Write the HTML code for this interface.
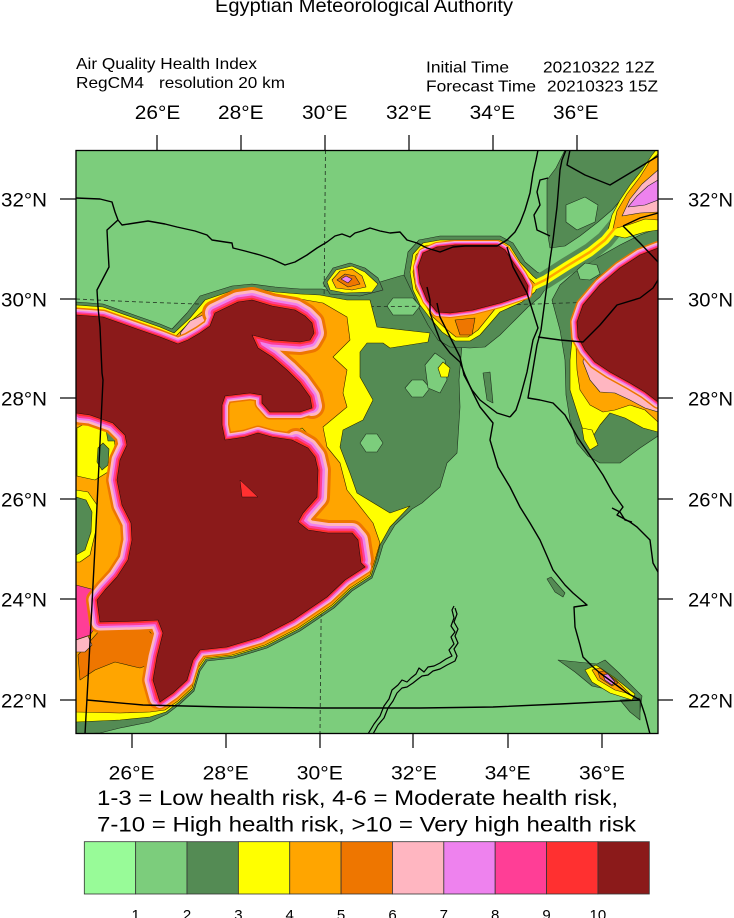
<!DOCTYPE html>
<html><head><meta charset="utf-8"><style>
html,body{margin:0;padding:0;background:#fff;}
svg{display:block;}
text{font-family:"Liberation Sans",Arial,sans-serif;fill:#000;}
</style></head><body>
<svg width="734" height="918" viewBox="0 0 734 918" xmlns="http://www.w3.org/2000/svg" xmlns:xlink="http://www.w3.org/1999/xlink">
<rect width="734" height="918" fill="#fff"/>
<defs>
<clipPath id="c"><rect x="76" y="150.5" width="582" height="583"/></clipPath>
<path id="dr1" d="M76,315 L103,317 L137,329 L160,337 L178,344 L188,340 L200,333 L210,326 L215,313 L238,302 L252,300 L272,306 L295,310 L305,316 L312,323 L314,333 L310,340 L300,342 L272,340 L252,335 L258,348 L272,357 L287,370 L300,383 L310,397 L312,408 L300,412 L270,412 L262,403 L262,395 L250,393 L225,396 L222,405 L222,425 L225,440 L245,437 L258,433 L272,437 L292,440 L308,448 L315,457 L318,470 L317,497 L303,513 L298,522 L308,530 L328,533 L352,533 L358,540 L361,563 L365,567 L345,580 L327,597 L293,620 L260,637 L227,647 L200,650 L193,660 L187,680 L173,693 L160,702 L153,680 L157,657 L163,633 L158,620 L140,621 L100,622 L97,600 L105,590 L117,577 L128,560 L132,540 L131,523 L122,505 L117,480 L120,460 L127,445 L125,435 L113,423 L90,415 L76,413 Z"/>
<path id="segE" d="M215,313 L238,302 L252,300 L272,306 L295,310 L305,316 L312,323 L314,333 L310,340 L300,342 L272,340 L252,335 L258,348 L272,357 L287,370 L300,383 L310,397 L312,406 M296,441 L308,448 L315,457 L318,470 L317,497 L303,513 L298,522 L308,530 L328,533 L352,533 L358,540 L361,560"/>
<path id="segW" d="M80,414 L90,415 L113,423 L125,435 L127,445 L120,460 L117,480 L122,505 L131,523 L132,540 L128,560 L117,577 L105,590 L97,600 L100,622 L140,621 L158,620 L163,633 L157,657 L153,680 L158,698"/>
<path id="dr2" d="M423,253 L437,247 L455,245 L497,245 L505,250 L513,262 L522,275 L528,286 L527,294 L515,298 L500,303 L473,310 L450,313 L437,312 L427,300 L420,283 L418,267 Z"/>
<path id="dr3" d="M577,322 L583,305 L600,285 L620,268 L640,255 L658,248 L658,402 L645,392 L630,383 L610,372 L595,362 L585,350 L578,337 Z"/>
<path id="diag" d="M528,288 L545,280 L567,266 L590,252 L605,240 L615,228 L625,215"/>
</defs>

<!-- header -->
<text x="215" y="12" font-size="19.5" textLength="298" lengthAdjust="spacingAndGlyphs">Egyptian Meteorological Authority</text>
<text x="76" y="69" font-size="16" textLength="181" lengthAdjust="spacingAndGlyphs">Air Quality Health Index</text>
<text x="76" y="88" font-size="16" textLength="68" lengthAdjust="spacingAndGlyphs">RegCM4</text>
<text x="159" y="88" font-size="16" textLength="126" lengthAdjust="spacingAndGlyphs">resolution 20 km</text>
<text x="426" y="72.5" font-size="16" textLength="83" lengthAdjust="spacingAndGlyphs">Initial Time</text>
<text x="543" y="72.5" font-size="16" textLength="111.5" lengthAdjust="spacingAndGlyphs">20210322 12Z</text>
<text x="426" y="91.5" font-size="16" textLength="110" lengthAdjust="spacingAndGlyphs">Forecast Time</text>
<text x="547" y="91.5" font-size="16" textLength="111" lengthAdjust="spacingAndGlyphs">20210323 15Z</text>

<!-- map -->
<g clip-path="url(#c)" stroke-linejoin="round">
<rect x="76" y="150" width="582" height="584" fill="#7ccd7c"/>

<!-- dark green -->
<g fill="#548b54" stroke="#1e2e1e" stroke-width="0.6">
<polygon points="76,302 103,304 137,316 160,324 172,329 187,313 200,296 232,286 252,284 275,287 300,289 322,289 335,292 350,292 360,285 380,282 400,276 423,271 423,285 432,292 445,305 455,315 462,322 462,345 459,380 460,407 457,453 447,463 440,487 422,503 412,509 395,525 383,545 378,562 372,578 352,591 334,608 300,631 267,648 234,658 207,661 200,671 194,691 180,704 167,714 150,722 120,728 100,733 76,734"/>
<polygon points="404,275 408,252 419,240 440,236 500,236 513,243 525,262 537,272 545,276 548,285 540,297 528,307 515,320 500,335 485,347 470,348 450,347 438,340 428,325 420,310 412,292"/>
<polygon points="565,150 658,150 658,165 640,178 625,195 612,210 598,222 580,236 565,246 550,248 547,230 547,180 556,168"/>
<polygon points="552,300 560,285 575,272 597,258 620,245 640,235 658,228 658,436 640,448 620,463 600,463 588,456 577,443 570,420 566,395 565,360 560,330"/>
<polygon points="558,660 597,664 605,660 618,672 642,696 640,712 632,700 610,690 592,686 575,672"/>
<polygon points="547,579 551,577 565,593 563,597 555,592"/>
<polygon points="620,700 640,698 640,720 630,712"/>
<polygon points="483,373 490,372 493,403 487,400"/>
</g>
<use href="#diag" xlink:href="#diag" fill="none" stroke="#548b54" stroke-width="18" stroke-linecap="round"/>

<!-- light green patches -->
<g fill="#7ccd7c" stroke="#1e2e1e" stroke-width="0.6">
<polygon points="387,306 393,298 413,298 420,306 413,315 393,315"/>
<polygon points="360,443 366,434 377,434 383,443 377,452 366,452"/>
<polygon points="405,388 412,380 423,380 430,388 423,397 412,397"/>
<polygon points="425,365 435,353 445,360 447,380 440,393 428,388"/>
<polygon points="566,205 585,197 598,205 595,222 577,230 566,222"/>
<polygon points="577,270 585,263 597,265 600,274 590,280 580,279"/>
</g>

<!-- grid lines (under the higher fills) -->
<g fill="none" stroke="#2a3f2a" stroke-width="0.9" stroke-dasharray="4,3">
<path d="M325.5,150 L320,734"/>
<path d="M76,299 Q367,314 658,299"/>
</g>

<!-- yellow -->
<g fill="#ffff00" stroke="#2a2a00" stroke-width="0.6">
<polygon points="76,305 103,307 137,319 160,327 174,333 190,318 205,300 234,290 252,288 275,292 300,294 320,295 347,300 370,300 377,327 430,333 428,342 390,348 383,343 367,343 360,352 360,377 373,400 363,420 343,430 340,447 350,473 357,493 390,513 410,506 390,527 380,545 376,560 371,576 351,589 333,606 299,629 266,646 233,656 206,659 199,669 193,689 179,702 166,712 150,717 120,720 76,722"/>
<polygon points="410,272 413,254 423,243 440,240 500,240 510,246 520,262 533,276 540,282 535,292 522,302 500,312 480,335 470,341 455,341 442,332 430,318 420,305 413,290"/>
<polygon points="607,234 612,215 620,200 630,185 642,170 652,155 656,150 658,150 658,230 645,232 625,238"/>
<polygon points="572,318 578,302 597,278 625,257 658,242 658,432 643,428 625,418 610,413 600,425 592,438 583,430 577,412 570,390 570,360 572,340"/>
<polygon points="582,428 592,430 598,445 590,450 584,440"/>
<polygon points="585,670 596,665 615,678 635,694 632,700 610,693 592,682"/>
<polygon points="438,368 443,362 450,368 448,377 441,377"/>
</g>
<use href="#diag" xlink:href="#diag" fill="none" stroke="#ffff00" stroke-width="9" stroke-linecap="round"/>

<!-- orange -->
<g fill="#ffa500" stroke="#3a2600" stroke-width="0.6">
<polygon points="76,308 103,310 137,322 160,330 176,336 190,322 210,305 236,295 252,293 275,297 300,299 323,303 347,317 350,340 333,357 347,370 343,393 347,407 323,427 327,447 340,463 347,490 373,523 380,543 375,560 370,575 350,588 332,605 298,628 265,645 232,655 205,658 198,668 192,688 178,701 165,710 150,712 120,713 76,712"/>
<polygon points="413,272 416,255 425,246 440,243 500,243 507,248 517,263 528,277 535,284 530,292 518,300 495,309 478,330 468,337 456,337 445,328 433,317 424,303 416,289"/>
<polygon points="613,229 617,211 627,194 640,177 650,161 658,154 658,220 645,219 628,225"/>
<polygon points="575,322 581,305 599,282 627,260 658,246 658,422 645,410 630,405 615,410 603,412 590,405 580,390 577,370 576,345"/>
<polygon points="592,670 600,668 616,680 630,694 615,690 598,680"/>
</g>
<use href="#diag" xlink:href="#diag" fill="none" stroke="#ffa500" stroke-width="2.5"/>

<!-- left edge patches -->
<g stroke="#2a2a00" stroke-width="0.6">
<polygon fill="#ffff00" points="77,428 95,418 112,426 115,445 108,472 95,480 77,476"/>
<polygon fill="#548b54" points="98,448 103,443 109,449 108,465 102,470 97,462"/>
<polygon fill="#548b54" points="106,430 112,427 118,433 115,441 108,441"/>
<polygon fill="#ffff00" points="76,490 88,492 97,505 96,530 90,555 80,562 76,562"/>
<polygon fill="#548b54" points="76,497 86,500 92,512 91,532 85,550 76,555"/>
<polygon fill="#ee7600" points="78,655 100,630 145,627 158,640 156,662 140,668 115,662 95,670 80,680"/>
<polygon fill="#ff3e96" points="76,585 95,590 97,625 90,635 76,640"/>
<polygon fill="#ffb6c1" points="76,640 88,636 92,645 85,652 76,652"/>
<polygon fill="#ffff00" points="295,432 302,428 308,434 302,438"/>
<polygon fill="#ee7600" points="455,320 475,318 472,335 460,335"/>
</g>

<!-- small blob near Alexandria -->
<g stroke="#222" stroke-width="0.6">
<polygon fill="#548b54" points="323,283 333,268 350,263 365,268 378,278 383,290 360,296 330,294"/>
<polygon fill="#ffff00" points="327,282 336,270 352,266 365,272 378,284 372,292 345,293 330,290"/>
<polygon fill="#ffa500" points="332,280 340,271 352,269 362,276 366,287 352,290 336,288"/>
<polygon fill="#ee7600" points="337,280 345,274 355,276 360,284 348,287"/>
<polygon fill="#ee82ee" points="341,279 346,276 352,279 348,283"/>
</g>

<!-- pinks -->
<g stroke="#222" stroke-width="0.6">
<polygon fill="#ffb6c1" points="178,344 181,332 190,321 205,314 214,314 210,326 200,333 188,340"/>
<polygon fill="#ffb6c1" points="622,216 630,199 642,184 658,170 658,212 640,213"/>
<polygon fill="#ee82ee" points="628,207 637,196 648,186 658,180 658,200 645,205"/>
<polygon fill="#ffb6c1" points="585,345 600,362 625,378 658,398 658,412 645,408 630,400 615,393 600,392 590,380 583,362"/>
<polygon fill="#ee7600" points="598,672 604,671 618,683 612,686 600,678"/>
<polygon fill="#ee82ee" points="603,675 608,674 615,682 612,685 605,680"/>
</g>

<!-- concentric bands around dark red blobs -->
<g fill="none" stroke-linecap="round">
<use href="#segE" xlink:href="#segE" stroke="#ee7600" stroke-width="26"/>
<use href="#segW" xlink:href="#segW" stroke="#ee7600" stroke-width="22"/>
<use href="#dr1" xlink:href="#dr1" stroke="#ee7600" stroke-width="15"/>
<use href="#segE" xlink:href="#segE" stroke="#ffb6c1" stroke-width="20"/>
<use href="#segW" xlink:href="#segW" stroke="#ffb6c1" stroke-width="17"/>
<use href="#dr1" xlink:href="#dr1" stroke="#ffb6c1" stroke-width="12"/>
<use href="#segE" xlink:href="#segE" stroke="#ee82ee" stroke-width="14"/>
<use href="#segW" xlink:href="#segW" stroke="#ee82ee" stroke-width="12"/>
<use href="#dr1" xlink:href="#dr1" stroke="#ee82ee" stroke-width="9"/>
<use href="#segE" xlink:href="#segE" stroke="#ff3e96" stroke-width="9"/>
<use href="#segW" xlink:href="#segW" stroke="#ff3e96" stroke-width="8"/>
<use href="#dr1" xlink:href="#dr1" stroke="#ff3e96" stroke-width="6"/>
<use href="#segE" xlink:href="#segE" stroke="#ff3030" stroke-width="4.5"/>
<use href="#segW" xlink:href="#segW" stroke="#ff3030" stroke-width="4"/>
<use href="#dr1" xlink:href="#dr1" stroke="#ff3030" stroke-width="3"/>
<use href="#dr2" xlink:href="#dr2" stroke="#ee7600" stroke-width="10"/>
<use href="#dr2" xlink:href="#dr2" stroke="#ffb6c1" stroke-width="8"/>
<use href="#dr2" xlink:href="#dr2" stroke="#ee82ee" stroke-width="6"/>
<use href="#dr2" xlink:href="#dr2" stroke="#ff3e96" stroke-width="4"/>
<use href="#dr2" xlink:href="#dr2" stroke="#ff3030" stroke-width="2"/>
<use href="#dr3" xlink:href="#dr3" stroke="#ee7600" stroke-width="14"/>
<use href="#dr3" xlink:href="#dr3" stroke="#ffb6c1" stroke-width="11"/>
<use href="#dr3" xlink:href="#dr3" stroke="#ee82ee" stroke-width="8"/>
<use href="#dr3" xlink:href="#dr3" stroke="#ff3e96" stroke-width="5"/>
<use href="#dr3" xlink:href="#dr3" stroke="#ff3030" stroke-width="2.5"/>
</g>
<g fill="#8b1a1a" stroke="#2a0a0a" stroke-width="0.6">
<use href="#dr1" xlink:href="#dr1"/>
<use href="#dr2" xlink:href="#dr2"/>
<use href="#dr3" xlink:href="#dr3"/>
</g>
<polygon fill="#ff3030" stroke="#2a0a0a" stroke-width="0.5" points="240,480 242,497 258,497"/>

<!-- coastlines and borders -->
<g fill="none" stroke="#000" stroke-width="1.4" stroke-linejoin="round">
<path d="M76,198 L100,199 L112,202 L115,212 L118,220 L122,225 L135,223 L148,221 L165,224 L177,227 L195,231 L207,235 L212,240 L225,242 L232,243 L233,248 L245,251 L260,255 L272,259 L285,265 L295,262 L307,255 L317,248 L327,242 L335,236 L342,234 L350,237 L355,233 L362,231 L370,228 L380,231 L390,233 L400,232 L407,240 L417,243 L427,248 L440,252 L453,247 L465,246 L480,246 L497,246 L507,240 L515,232 L520,223 L525,210 L530,193 L533,173 L536,160 L538,150"/>
<path d="M118,220 L107,230 L108,250 L109,267 L97,290 L98,307 L100,327 L102,373 L103,380 L95,547 L88,680 L85,734"/>
<path d="M87,700 L143,705 L227,707 L320,708 L420,708 L493,707 L560,704 L640,700"/>
<path d="M427,287 L430,300 L430,313 L435,327 L440,340 L450,353 L460,362 L465,375 L473,393 L480,407 L493,423 L490,440 L498,467 L510,487 L520,507 L530,523 L540,540 L547,556 L553,570 L565,585 L573,593 L587,605 L574,607 L575,627 L580,645 L583,657 L593,667 L600,673 L615,684 L627,693 L640,700 L645,715 L650,734"/>
<path d="M437,303 L440,317 L450,337 L460,357 L464,375 L472,390 L480,400 L497,413 L510,417"/>
<path d="M510,417 L516,410 L520,398 L527,372 L533,340 L538,328 L527,293 L513,267 L507,247"/>
<path d="M541,330 L537,345 L532,375 L528,398 L540,400 L553,403 L565,415 L578,438 L593,460 L603,475 L613,493 L623,507 L617,515 L630,522 L637,527 L650,540 L653,563 L658,572"/>
<path d="M541,330 L545,300 L547,285 L550,260 L553,240 L557,207 L560,170 L562,160 L566,150"/>
<path d="M548,178 L540,180 L537,192 L540,205 L534,215 L537,230 L550,236"/>
<path d="M538,337 L560,340 L583,342 L600,325 L617,305 L640,298 L653,288 L658,280"/>
<path d="M570,150 L567,165 L585,175 L610,185 L635,170 L658,156"/>
<path d="M623,226 L640,218 L658,213"/>
<path d="M623,226 L640,243 L658,262"/>
<path d="M612,508 L620,512 L625,520 L632,522"/>
<path stroke-width="1.2" d="M368,734 L374,724 L380,716 L384,706 L389,699 L392,690 L398,685 L402,680 L407,682 L411,678 L416,674 L419,668 L424,672 L428,667 L434,666 L440,663 L446,659 L452,656 L449,650 L454,644 L451,637 L455,632 L451,626 L454,618 L452,610 L454,606"/>
<path stroke-width="1.2" d="M373,734 L378,725 L384,718 L388,708 L393,701 L397,693 L402,688 L407,687 L413,683 L418,679 L422,676 L428,675 L433,671 L440,669 L447,665 L455,661 L457,656 L454,649 L458,643 L455,636 L458,629 L454,622 L457,614 L455,608"/>
</g>
</g>

<!-- frame -->
<rect x="76" y="150.5" width="582" height="583" fill="none" stroke="#000" stroke-width="1.3"/>

<!-- ticks -->
<g stroke="#000" stroke-width="1.2">
<line x1="157" y1="135" x2="157" y2="150"/><line x1="241" y1="135" x2="241" y2="150"/><line x1="325" y1="135" x2="325" y2="150"/><line x1="409" y1="135" x2="409" y2="150"/><line x1="493" y1="135" x2="493" y2="150"/><line x1="577" y1="135" x2="577" y2="150"/>
<line x1="132" y1="733" x2="132" y2="748"/><line x1="226" y1="733" x2="226" y2="748"/><line x1="320" y1="733" x2="320" y2="748"/><line x1="413" y1="733" x2="413" y2="748"/><line x1="508" y1="733" x2="508" y2="748"/><line x1="602" y1="733" x2="602" y2="748"/>
<line x1="60" y1="199" x2="76" y2="199"/><line x1="60" y1="299" x2="76" y2="299"/><line x1="60" y1="398" x2="76" y2="398"/><line x1="60" y1="499" x2="76" y2="499"/><line x1="60" y1="599" x2="76" y2="599"/><line x1="60" y1="700" x2="76" y2="700"/>
<line x1="658" y1="199" x2="673" y2="199"/><line x1="658" y1="299" x2="673" y2="299"/><line x1="658" y1="398" x2="673" y2="398"/><line x1="658" y1="499" x2="673" y2="499"/><line x1="658" y1="599" x2="673" y2="599"/><line x1="658" y1="700" x2="673" y2="700"/>
</g>

<!-- axis labels -->
<g font-size="19">
<text x="134.8" y="119" textLength="45.5" lengthAdjust="spacingAndGlyphs">26°E</text>
<text x="218" y="119" textLength="45.5" lengthAdjust="spacingAndGlyphs">28°E</text>
<text x="302" y="119" textLength="45.5" lengthAdjust="spacingAndGlyphs">30°E</text>
<text x="386" y="119" textLength="45.5" lengthAdjust="spacingAndGlyphs">32°E</text>
<text x="469.6" y="119" textLength="45.5" lengthAdjust="spacingAndGlyphs">34°E</text>
<text x="553" y="119" textLength="45.5" lengthAdjust="spacingAndGlyphs">36°E</text>
<text x="108.6" y="779.3" textLength="46" lengthAdjust="spacingAndGlyphs">26°E</text>
<text x="202.7" y="779.3" textLength="46" lengthAdjust="spacingAndGlyphs">28°E</text>
<text x="296.8" y="779.3" textLength="46" lengthAdjust="spacingAndGlyphs">30°E</text>
<text x="391" y="779.3" textLength="46" lengthAdjust="spacingAndGlyphs">32°E</text>
<text x="484.6" y="779.3" textLength="46" lengthAdjust="spacingAndGlyphs">34°E</text>
<text x="579" y="779.3" textLength="46" lengthAdjust="spacingAndGlyphs">36°E</text>
<text x="1" y="206.7" textLength="46" lengthAdjust="spacingAndGlyphs">32°N</text>
<text x="1" y="306.7" textLength="46" lengthAdjust="spacingAndGlyphs">30°N</text>
<text x="1" y="405.7" textLength="46" lengthAdjust="spacingAndGlyphs">28°N</text>
<text x="1" y="506.7" textLength="46" lengthAdjust="spacingAndGlyphs">26°N</text>
<text x="1" y="606.7" textLength="46" lengthAdjust="spacingAndGlyphs">24°N</text>
<text x="1" y="707.7" textLength="46" lengthAdjust="spacingAndGlyphs">22°N</text>
<text x="688" y="206.5" textLength="45" lengthAdjust="spacingAndGlyphs">32°N</text>
<text x="688" y="306.5" textLength="45" lengthAdjust="spacingAndGlyphs">30°N</text>
<text x="688" y="405.5" textLength="45" lengthAdjust="spacingAndGlyphs">28°N</text>
<text x="688" y="506.5" textLength="45" lengthAdjust="spacingAndGlyphs">26°N</text>
<text x="688" y="606.5" textLength="45" lengthAdjust="spacingAndGlyphs">24°N</text>
<text x="688" y="707.5" textLength="45" lengthAdjust="spacingAndGlyphs">22°N</text>
</g>

<!-- legend text -->
<text x="97" y="805" font-size="21" textLength="521" lengthAdjust="spacingAndGlyphs">1-3 = Low health risk, 4-6 = Moderate health risk,</text>
<text x="97" y="831.7" font-size="21" textLength="539" lengthAdjust="spacingAndGlyphs">7-10 = High health risk, &gt;10 = Very high health risk</text>

<!-- colorbar -->
<g stroke="#333" stroke-width="0.8">
<rect x="84.3" y="841.7" width="51.36" height="52.3" fill="#98fb98"/>
<rect x="135.66" y="841.7" width="51.36" height="52.3" fill="#7ccd7c"/>
<rect x="187.02" y="841.7" width="51.36" height="52.3" fill="#548b54"/>
<rect x="238.38" y="841.7" width="51.36" height="52.3" fill="#ffff00"/>
<rect x="289.74" y="841.7" width="51.36" height="52.3" fill="#ffa500"/>
<rect x="341.1" y="841.7" width="51.36" height="52.3" fill="#ee7600"/>
<rect x="392.46" y="841.7" width="51.36" height="52.3" fill="#ffb6c1"/>
<rect x="443.82" y="841.7" width="51.36" height="52.3" fill="#ee82ee"/>
<rect x="495.18" y="841.7" width="51.36" height="52.3" fill="#ff3e96"/>
<rect x="546.54" y="841.7" width="51.36" height="52.3" fill="#ff3030"/>
<rect x="597.9" y="841.7" width="51.4" height="52.3" fill="#8b1a1a"/>
</g>
<g font-size="15" text-anchor="middle">
<text x="135.7" y="920">1</text>
<text x="187" y="920">2</text>
<text x="238.4" y="920">3</text>
<text x="289.7" y="920">4</text>
<text x="341.1" y="920">5</text>
<text x="392.5" y="920">6</text>
<text x="443.8" y="920">7</text>
<text x="495.2" y="920">8</text>
<text x="546.5" y="920">9</text>
<text x="597.9" y="920">10</text>
</g>
</svg>
</body></html>
